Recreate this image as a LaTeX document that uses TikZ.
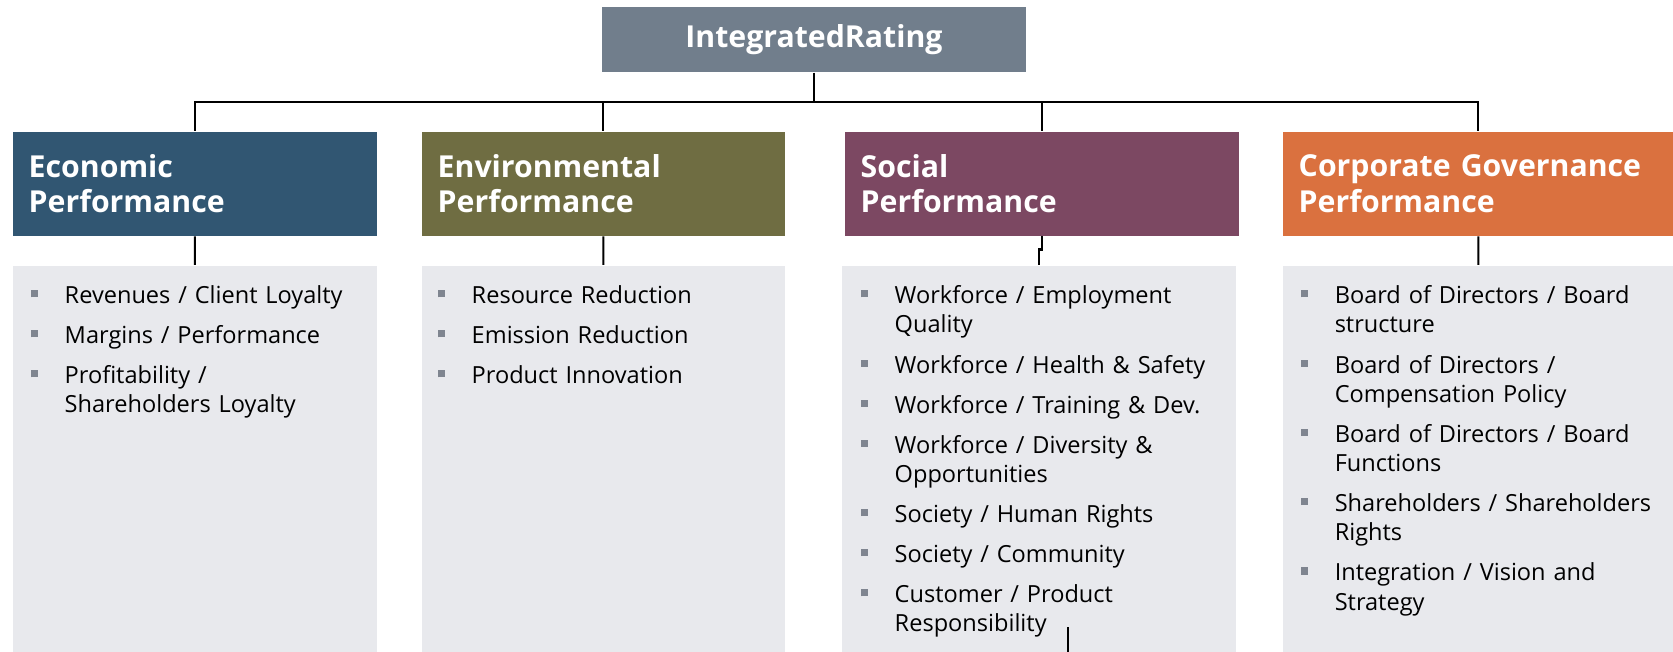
\documentclass[tikz,border=0pt]{standalone}
\usepackage{fontspec}
\setmainfont{Open Sans}
\usetikzlibrary{positioning}

\definecolor{ratinggray}{HTML}{717E8C}
\definecolor{ecoblue}{HTML}{315672}
\definecolor{envolive}{HTML}{6F6D42}
\definecolor{socplum}{HTML}{7C4862}
\definecolor{govorange}{HTML}{DA713F}
\definecolor{listgray}{HTML}{E8E9ED}
\definecolor{bulletgray}{HTML}{7F8590}

% one criterion of a list, with a small square bullet and a hanging indent
\newcommand{\kpi}[1]{\noindent\hangindent=0.34cm\hangafter=1%
\makebox[0.34cm][l]{\textcolor{bulletgray}{\rule[1.8pt]{2pt}{2pt}}}#1\par}

\tikzset{
  link/.style={draw=black,line width=0.6pt},
  head/.style={rectangle,anchor=north west,inner xsep=0.16cm,inner ysep=0pt,
    minimum height=1.04cm,text width=#1,align=left,text=white,
    font=\fontsize{8.6}{10}\selectfont\bfseries},
  listbox/.style={rectangle,anchor=north west,fill=listgray,inner sep=0pt,
    minimum width=#1,minimum height=3.87cm},
  items/.style={anchor=north west,inner sep=0pt,text width=#1,align=left,
    font=\fontsize{6.7}{8.3}\selectfont,
    execute at begin node={\setlength{\parskip}{3.1pt}}}
}

\begin{document}
\begin{tikzpicture}[x=0.01cm,y=-0.01cm]
\useasboundingbox (0,0) rectangle (1673,652);

\node[rectangle,fill=ratinggray,minimum width=4.24cm,minimum height=0.65cm,text=white,
  font=\fontsize{8.6}{10}\selectfont\bfseries] (rating) at (814,39.5) {IntegratedRating};

\node[head=3.32cm,fill=ecoblue] (eco) at (12,131) {Economic\\Performance};
\node[head=3.31cm,fill=envolive] (env) at (421,131) {Environmental\\Performance};
\node[head=3.62cm,fill=socplum] (soc) at (844,131) {Social\\Performance};
\node[head=3.59cm,fill=govorange] (gov) at (1282,131) {Corporate Governance\\Performance};

\node[listbox=3.64cm] (ecolist) at (12,265) {};
\node[listbox=3.63cm] (envlist) at (421,265) {};
\node[listbox=3.94cm] (soclist) at (841,265) {};
\node[listbox=3.91cm] (govlist) at (1282,265) {};

\node[items=3.4cm] (ecoitems) at ([xshift=0.18cm,yshift=-0.2cm]ecolist.north west) {%
\kpi{Revenues / Client Loyalty}
\kpi{Margins / Performance}
\kpi{Profitability /\newline Shareholders Loyalty}};

\node[items=3.4cm] (envitems) at ([xshift=0.16cm,yshift=-0.2cm]envlist.north west) {%
\kpi{Resource Reduction}
\kpi{Emission Reduction}
\kpi{Product Innovation}};

\node[items=3.7cm] (socitems) at ([xshift=0.19cm,yshift=-0.2cm]soclist.north west) {%
\kpi{Workforce / Employment\newline Quality}
\kpi{Workforce / Health \& Safety}
\kpi{Workforce / Training \& Dev.}
\kpi{Workforce / Diversity \&\newline Opportunities}
\kpi{Society / Human Rights}
\kpi{Society / Community}
\kpi{Customer / Product\newline Responsibility}};

\node[items=3.7cm] (govitems) at ([xshift=0.18cm,yshift=-0.2cm]govlist.north west) {%
\kpi{Board of Directors / Board\newline structure}
\kpi{Board of Directors /\newline Compensation Policy}
\kpi{Board of Directors / Board\newline Functions}
\kpi{Shareholders / Shareholders\newline Rights}
\kpi{Integration / Vision and\newline Strategy}};

% tree lines
\coordinate (bus) at (0,102);
\coordinate (stub) at (1068,627);
\draw[link] (rating.south) -- (rating.south |- bus);
\draw[link] (eco.north) -- (eco.north |- bus) -- (gov.north |- bus) -- (gov.north);
\draw[link] (env.north) -- (env.north |- bus);
\draw[link] (soc.north) -- (soc.north |- bus);

\draw[link] (eco.south) -- (ecolist.north);
\draw[link] (env.south) -- (envlist.north);
\draw[link] (soc.south) -- ++(0,13) -| (soclist.north);
\draw[link] (gov.south) -- (govlist.north);
\draw[link] (stub) -- (stub |- soclist.south);

\end{tikzpicture}
\end{document}
